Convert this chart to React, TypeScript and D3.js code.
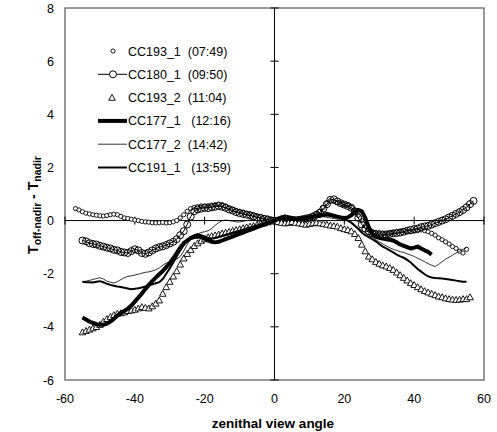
import React from "react";
import * as d3 from "d3";

const angles = [
  -57,-56,-55,-54,-53,-52,-51,-50,-49,-48,-47,-46,-45,-44,-43,-42,-41,-40,-39,-38,
  -37,-36,-35,-34,-33,-32,-31,-30,-29,-28,-27,-26,-25,-24,-23,-22,-21,-20,-19,-18,
  -17,-16,-15,-14,-13,-12,-11,-10,-9,-8,-7,-6,-5,-4,-3,-2,-1,0,
  1,2,3,4,5,6,7,8,9,10,11,12,13,14,15,16,17,18,19,20,
  21,22,23,24,25,26,27,28,29,30,31,32,33,34,35,36,37,38,39,40,
  41,42,43,44,45,46,47,48,49,50,51,52,53,54,55,56,57,
];

// values aligned with angles (-57 .. 57); null = no observation
const cc193_1 = [
  0.45,0.40,0.33,0.28,0.25,0.22,0.20,0.18,0.17,0.19,0.22,0.24,0.22,0.16,0.10,0.08,0.05,0.02,0.00,-0.03,
  -0.05,-0.06,-0.08,-0.09,-0.08,-0.07,-0.09,-0.08,-0.05,0.00,0.10,0.22,0.35,0.45,0.50,0.52,0.55,0.55,0.56,0.58,
  0.60,0.62,0.60,0.55,0.48,0.42,0.38,0.35,0.32,0.28,0.25,0.22,0.18,0.15,0.12,0.10,0.05,0.00,
  -0.05,0.00,0.05,0.02,-0.02,0.00,0.05,0.08,0.10,0.15,0.20,0.25,0.35,0.50,0.65,0.75,0.72,0.68,0.65,0.60,
  0.58,0.50,0.38,0.20,0.00,-0.20,-0.35,-0.42,-0.45,-0.45,-0.47,-0.50,-0.48,-0.45,-0.42,-0.40,-0.38,-0.40,-0.42,-0.40,
  -0.38,-0.35,-0.38,-0.42,-0.48,-0.55,-0.65,-0.72,-0.80,-0.88,-0.98,-1.05,-1.15,-1.22,-1.08,null,null,
];
const cc180_1 = [
  null,null,-0.75,-0.78,-0.85,-0.88,-0.90,-0.95,-0.98,-1.02,-1.05,-1.10,-1.12,-1.18,-1.20,-1.22,-1.15,-1.08,-1.12,-1.22,
  -1.25,-1.20,-1.12,-1.05,-1.00,-0.97,-0.92,-0.86,-0.80,-0.70,-0.55,-0.40,-0.15,0.15,0.35,0.42,0.45,0.48,0.47,0.50,
  0.52,0.55,0.52,0.48,0.42,0.38,0.32,0.28,0.25,0.22,0.20,0.16,0.12,0.10,0.06,0.03,0.01,0.00,
  0.00,0.05,0.08,0.05,0.02,0.00,0.03,0.05,0.08,0.10,0.15,0.22,0.30,0.45,0.62,0.78,0.80,0.72,0.65,0.60,
  0.55,0.48,0.35,0.10,-0.15,-0.30,-0.40,-0.48,-0.52,-0.55,-0.55,-0.52,-0.50,-0.48,-0.47,-0.45,-0.42,-0.38,-0.35,-0.32,
  -0.30,-0.25,-0.22,-0.20,-0.15,-0.10,-0.05,0.00,0.05,0.12,0.18,0.25,0.32,0.40,0.50,0.62,0.74,
];
const cc193_2 = [
  null,null,-4.20,-4.15,-4.10,-4.05,-4.00,-3.92,-3.80,-3.70,-3.62,-3.55,-3.50,-3.48,-3.45,-3.40,-3.38,-3.35,-3.30,-3.25,
  -3.28,-3.30,-3.22,-3.12,-3.00,-2.75,-2.50,-2.30,-2.10,-1.90,-1.65,-1.42,-1.25,-1.10,-0.95,-0.85,-0.76,-0.70,-0.62,-0.58,
  -0.55,-0.52,-0.48,-0.45,-0.42,-0.38,-0.35,-0.32,-0.28,-0.25,-0.22,-0.20,-0.16,-0.12,-0.10,-0.06,-0.03,0.00,
  -0.05,-0.08,-0.10,-0.08,-0.05,-0.08,-0.10,-0.12,-0.15,-0.12,-0.10,-0.08,-0.10,-0.12,-0.15,-0.18,-0.20,-0.22,-0.28,-0.32,
  -0.35,-0.40,-0.50,-0.65,-0.90,-1.15,-1.35,-1.45,-1.55,-1.62,-1.68,-1.72,-1.78,-1.85,-1.95,-2.05,-2.15,-2.25,-2.35,-2.42,
  -2.50,-2.58,-2.65,-2.70,-2.75,-2.80,-2.85,-2.88,-2.92,-2.95,-2.97,-2.98,-2.97,-2.95,-2.95,-2.88,null,
];
const cc177_1 = [
  null,null,-3.65,-3.72,-3.80,-3.85,-3.90,-3.92,-3.92,-3.88,-3.80,-3.70,-3.58,-3.48,-3.40,-3.32,-3.20,-3.05,-2.90,-2.75,
  -2.58,-2.42,-2.28,-2.15,-2.02,-1.90,-1.75,-1.60,-1.42,-1.22,-1.02,-0.85,-0.75,-0.66,-0.62,-0.60,-0.62,-0.68,-0.75,-0.80,
  -0.82,-0.80,-0.75,-0.70,-0.65,-0.60,-0.55,-0.50,-0.45,-0.40,-0.35,-0.30,-0.25,-0.20,-0.15,-0.10,-0.05,0.00,
  0.05,0.10,0.15,0.12,0.10,0.08,0.05,0.08,0.10,0.12,0.15,0.18,0.20,0.22,0.25,0.22,0.18,0.15,0.12,0.10,
  0.12,0.20,0.32,0.40,0.35,0.10,-0.25,-0.50,-0.60,-0.65,-0.68,-0.70,-0.72,-0.75,-0.82,-0.90,-0.95,-1.00,-1.05,-1.02,
  -0.98,-1.05,-1.12,-1.18,-1.28,null,null,null,null,null,null,null,null,null,null,null,null,
];
const cc177_2 = [
  null,null,-2.30,-2.28,-2.25,-2.22,-2.18,-2.15,-2.20,-2.28,-2.32,-2.35,-2.30,-2.22,-2.15,-2.10,-2.08,-2.05,-2.02,-1.98,
  -1.95,-1.93,-1.90,-1.85,-1.78,-1.68,-1.60,-1.55,-1.50,-1.45,-1.35,-1.15,-0.90,-0.68,-0.55,-0.50,-0.45,-0.42,-0.38,-0.30,
  -0.18,-0.08,0.00,0.02,0.00,-0.02,-0.05,-0.05,-0.03,0.00,0.02,0.02,0.00,0.00,0.02,0.02,0.00,0.00,
  0.02,0.05,0.08,0.05,0.03,0.05,0.08,0.10,0.08,0.05,0.08,0.10,0.12,0.15,0.12,0.10,0.08,0.05,0.05,0.03,
  0.00,-0.05,-0.15,-0.28,-0.38,-0.45,-0.55,-0.62,-0.72,-0.80,-0.88,-0.95,-1.02,-1.08,-1.12,-1.17,-1.20,-1.25,-1.30,-1.35,
  -1.42,-1.48,-1.55,-1.62,-1.68,-1.73,-1.65,-1.55,-1.45,-1.38,-1.30,-1.22,-1.15,-1.08,-1.02,null,null,
];
const cc191_1 = [
  null,null,-2.30,-2.32,-2.32,-2.33,-2.30,-2.28,-2.32,-2.38,-2.42,-2.45,-2.48,-2.50,-2.53,-2.56,-2.58,-2.57,-2.55,-2.52,
  -2.48,-2.44,-2.40,-2.36,-2.32,-2.20,-2.00,-1.80,-1.58,-1.35,-1.12,-0.92,-0.75,-0.62,-0.55,-0.52,-0.55,-0.60,-0.65,-0.68,
  -0.66,-0.62,-0.58,-0.54,-0.50,-0.46,-0.42,-0.38,-0.34,-0.30,-0.26,-0.22,-0.18,-0.14,-0.10,-0.06,-0.03,0.00,
  0.02,0.05,0.05,0.03,0.02,0.03,0.05,0.05,0.08,0.10,0.12,0.15,0.15,0.18,0.20,0.18,0.15,0.12,0.10,0.05,
  0.00,-0.08,-0.20,-0.32,-0.45,-0.55,-0.62,-0.70,-0.78,-0.88,-0.98,-1.05,-1.12,-1.20,-1.28,-1.35,-1.40,-1.48,-1.58,-1.70,
  -1.82,-1.92,-2.02,-2.10,-2.14,-2.16,-2.17,-2.18,-2.20,-2.22,-2.24,-2.26,-2.28,-2.30,-2.30,null,null,
];

const xTicks = [-60, -40, -20, 0, 20, 40, 60];
const yTicks = [-6, -4, -2, 0, 2, 4, 6, 8];
const legendLabels = [
  "CC193_1  (07:49)",
  "CC180_1  (09:50)",
  "CC193_2  (11:04)",
  "CC177_1   (12:16)",
  "CC177_2  (14:42)",
  "CC191_1   (13:59)",
];

const W = 497, H = 432;
const FONT = "'Liberation Sans', Arial, sans-serif";

type Pt = { a: number; v: number };
const pts = (vals: (number | null)[]): Pt[] =>
  angles.map((a, i) => ({ a, v: vals[i] as number })).filter((p, i) => vals[i] !== null);

export default function App() {
  const x = d3.scaleLinear().domain([-60, 60]).range([65, 484]);
  const y = d3.scaleLinear().domain([-6, 8]).range([380, 8]);
  const line = d3.line<Pt>().x((p) => x(p.a)).y((p) => y(p.v));
  const tri = (cx: number, cy: number, s = 3.3) =>
    `M${cx},${cy - s}L${cx + s},${cy + s * 0.8}L${cx - s},${cy + s * 0.8}Z`;

  const s193_1 = pts(cc193_1);
  const s180_1 = pts(cc180_1);
  const s193_2 = pts(cc193_2);
  const s177_1 = pts(cc177_1);
  const s177_2 = pts(cc177_2);
  const s191_1 = pts(cc191_1);

  const lgX1 = 98, lgX2 = 127, lgTx = 128;
  const lgY = (i: number) => 51 + i * 23.3;

  return (
    <svg width={W} height={H} style={{ position: "absolute", left: 0, top: 0 }} fontFamily={FONT}>
      <rect x={0} y={0} width={W} height={H} fill="#fff" />
      {/* frame */}
      <rect x={x(-60)} y={y(8)} width={x(60) - x(-60)} height={y(-6) - y(8)} fill="none" stroke="#555" strokeWidth={1.2} />
      {/* zero axes */}
      <line x1={x(-60)} x2={x(60)} y1={y(0)} y2={y(0)} stroke="#000" strokeWidth={1} />
      <line x1={x(0)} x2={x(0)} y1={y(-6)} y2={y(8)} stroke="#000" strokeWidth={1} />
      {xTicks.map((t) => (
        <line key={"xt" + t} x1={x(t)} x2={x(t)} y1={y(0) - 4} y2={y(0) + 4} stroke="#000" strokeWidth={1} />
      ))}
      {yTicks.map((t) => (
        <line key={"yt" + t} x1={x(0) - 4} x2={x(0) + 4} y1={y(t)} y2={y(t)} stroke="#000" strokeWidth={1} />
      ))}
      {xTicks.map((t) => (
        <text key={"xl" + t} x={x(t)} y={403} fontSize={12.5} textAnchor="middle" fill="#000">{t}</text>
      ))}
      {yTicks.map((t) => (
        <text key={"yl" + t} x={54} y={y(t) + 4.5} fontSize={12.5} textAnchor="end" fill="#000">{t}</text>
      ))}
      <text x={273} y={428} fontSize={13.5} fontWeight="bold" textAnchor="middle">zenithal view angle</text>
      <text transform={`translate(38,205) rotate(-90)`} fontSize={14} fontWeight="bold" textAnchor="middle">
        T<tspan fontSize={10.5} dy={3}>off-nadir</tspan><tspan dy={-3}> - T</tspan><tspan fontSize={10.5} dy={3}>nadir</tspan>
      </text>

      {/* series */}
      {s193_1.map((p, i) => (
        <circle key={"a" + i} cx={x(p.a)} cy={y(p.v)} r={2.1} fill="#fff" stroke="#000" strokeWidth={0.9} />
      ))}
      <path d={line(s180_1) || ""} fill="none" stroke="#000" strokeWidth={1} />
      {s180_1.map((p, i) => (
        <circle key={"b" + i} cx={x(p.a)} cy={y(p.v)} r={3.5} fill="none" stroke="#000" strokeWidth={1} />
      ))}
      {s193_2.map((p, i) => (
        <path key={"c" + i} d={tri(x(p.a), y(p.v))} fill="#fff" stroke="#000" strokeWidth={0.9} />
      ))}
      <path d={line(s177_1) || ""} fill="none" stroke="#000" strokeWidth={4} strokeLinejoin="round" />
      <path d={line(s177_2) || ""} fill="none" stroke="#000" strokeWidth={0.8} />
      <path d={line(s191_1) || ""} fill="none" stroke="#000" strokeWidth={2} />

      {/* legend */}
      <circle cx={113} cy={lgY(0)} r={2.1} fill="#fff" stroke="#000" strokeWidth={0.9} />
      <line x1={lgX1} x2={lgX2} y1={lgY(1)} y2={lgY(1)} stroke="#000" strokeWidth={1} />
      <circle cx={113} cy={lgY(1)} r={3.5} fill="#fff" stroke="#000" strokeWidth={1} />
      <path d={tri(112, lgY(2))} fill="#fff" stroke="#000" strokeWidth={0.9} />
      <line x1={lgX1} x2={lgX2} y1={lgY(3)} y2={lgY(3)} stroke="#000" strokeWidth={4} />
      <line x1={lgX1} x2={lgX2} y1={lgY(4)} y2={lgY(4)} stroke="#000" strokeWidth={0.8} />
      <line x1={lgX1} x2={lgX2} y1={lgY(5)} y2={lgY(5)} stroke="#000" strokeWidth={2} />
      {legendLabels.map((l, i) => (
        <text key={"lg" + i} x={lgTx} y={lgY(i) + 4.5} fontSize={12.5} fill="#000" style={{ whiteSpace: "pre" }}>{l}</text>
      ))}
    </svg>
  );
}
